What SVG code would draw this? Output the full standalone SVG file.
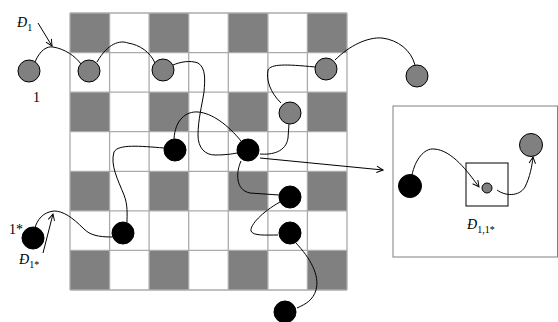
<svg xmlns="http://www.w3.org/2000/svg" width="558" height="322" viewBox="0 0 558 322">
<style>
.grid line{stroke:#ababab;stroke-width:1.3}
.dk{fill:#808080}
.g{fill:#808080;stroke:#000;stroke-width:1}
.b{fill:#000;stroke:#000;stroke-width:1}
.c path,.c line{fill:none;stroke:#000;stroke-width:1}
.t{font-family:"Liberation Serif",serif;font-size:14px;fill:#000}
.s{font-size:10px}
</style>
<defs>
<marker id="ah" viewBox="0 0 10 10" refX="9" refY="5" markerWidth="8" markerHeight="8" markerUnits="userSpaceOnUse" orient="auto">
<path d="M1,1 L9,5 L1,9" fill="none" stroke="#000" stroke-width="1.2"/>
</marker>
</defs>
<rect width="558" height="322" fill="#fff"/>
<g id="grid" class="grid">
<g class="dk">
<rect x="70" y="13" width="39.6" height="39.6"/><rect x="149.1" y="13" width="39.6" height="39.6"/><rect x="228.3" y="13" width="39.6" height="39.6"/><rect x="307.4" y="13" width="39.6" height="39.6"/>
<rect x="70" y="92.1" width="39.6" height="39.6"/><rect x="149.1" y="92.1" width="39.6" height="39.6"/><rect x="228.3" y="92.1" width="39.6" height="39.6"/><rect x="307.4" y="92.1" width="39.6" height="39.6"/>
<rect x="70" y="171.3" width="39.6" height="39.6"/><rect x="149.1" y="171.3" width="39.6" height="39.6"/><rect x="228.3" y="171.3" width="39.6" height="39.6"/><rect x="307.4" y="171.3" width="39.6" height="39.6"/>
<rect x="70" y="250.4" width="39.6" height="39.6"/><rect x="149.1" y="250.4" width="39.6" height="39.6"/><rect x="228.3" y="250.4" width="39.6" height="39.6"/><rect x="307.4" y="250.4" width="39.6" height="39.6"/>
</g>
<line x1="70" y1="13" x2="70" y2="290"/><line x1="109.6" y1="13" x2="109.6" y2="290"/><line x1="149.1" y1="13" x2="149.1" y2="290"/><line x1="188.7" y1="13" x2="188.7" y2="290"/><line x1="228.3" y1="13" x2="228.3" y2="290"/><line x1="267.9" y1="13" x2="267.9" y2="290"/><line x1="307.4" y1="13" x2="307.4" y2="290"/><line x1="347" y1="13" x2="347" y2="290"/>
<line x1="70" y1="13" x2="347" y2="13"/><line x1="70" y1="52.6" x2="347" y2="52.6"/><line x1="70" y1="92.1" x2="347" y2="92.1"/><line x1="70" y1="131.7" x2="347" y2="131.7"/><line x1="70" y1="171.3" x2="347" y2="171.3"/><line x1="70" y1="210.9" x2="347" y2="210.9"/><line x1="70" y1="250.4" x2="347" y2="250.4"/><line x1="70" y1="290" x2="347" y2="290"/>
</g>
<g id="connectors" class="c">
<path d="M35,62 C40,50 47,46 53,47 C65,49 75,56 81,64"/>
<path d="M97,62 C108,43 120,40 128,43 C140,45 150,52 155,63"/>
<path d="M173,65 C180,62 190,60 198,63 C206,68 205,80 204,92 C202,105 198,120 198,135 C198,148 205,155 215,155 C225,155 232,154 237,153"/>
<path d="M174,139 C175,120 186,111 198,112 C212,113 228,125 241,141"/>
<path d="M164,148 C140,146 118,144 114,152 C110,165 118,180 124,195 C128,205 127,215 127,222"/>
<path d="M112,237 C98,237 90,235 84,229 C72,217 63,211 54,211 C43,212 37,220 35,228"/>
<path d="M260,154 C272,155 286,152 288,138 L289,124"/>
<path d="M281,103 C270,92 266,80 268,70 C271,64 285,64 315,67"/>
<path d="M335,60 C350,45 368,37 382,38 C398,40 411,50 415,65"/>
<path d="M241,161 C236,172 235,190 250,193 L279,195"/>
<path d="M280,202 C262,212 250,225 251,231 C253,236 265,235 278,235"/>
<path d="M296,243 C310,258 320,275 316,290 C313,300 306,304 297,308"/>
<path d="M38,23 L52,46" marker-end="url(#ah)"/>
<path d="M43,253 L53,214" marker-end="url(#ah)"/>
<path d="M260,158 L383,170" marker-end="url(#ah)"/>
<path d="M412,175 C415,160 424,148 434,149 C452,150 468,172 479,187" marker-end="url(#ah)"/>
<path d="M497,190 C505,196 519,197 525,187 C530,177 532,166 533,157" marker-end="url(#ah)"/>
</g>
<g id="n1"><circle class="g" cx="29" cy="71" r="11"/></g>
<g id="n2"><circle class="g" cx="89" cy="71" r="11"/></g>
<g id="n3"><circle class="g" cx="163" cy="70" r="11"/></g>
<g id="n4"><circle class="g" cx="326" cy="69" r="11"/></g>
<g id="n5"><circle class="g" cx="290" cy="113" r="11"/></g>
<g id="n6"><circle class="g" cx="417" cy="76" r="11"/></g>
<g id="n7"><circle class="b" cx="175" cy="150" r="11"/></g>
<g id="n8"><circle class="b" cx="248" cy="150" r="11"/></g>
<g id="n9"><circle class="b" cx="290" cy="197" r="11"/></g>
<g id="n10"><circle class="b" cx="290" cy="233" r="11"/></g>
<g id="n11"><circle class="b" cx="123" cy="233" r="11"/></g>
<g id="n12"><circle class="b" cx="285" cy="312" r="11"/></g>
<g id="n13"><circle class="b" cx="33" cy="238" r="11"/></g>
<g id="inset">
<rect x="393" y="106" width="164.5" height="151" fill="none" stroke="#808080" stroke-width="1"/>
<circle class="b" cx="410" cy="186" r="11.5"/>
<circle class="g" cx="531" cy="145" r="11.5"/>
<rect x="466" y="163" width="42" height="43" fill="none" stroke="#000" stroke-width="1"/>
<circle class="g" cx="487" cy="188" r="5"/>
<text class="t" x="467" y="229"><tspan font-style="italic">Đ</tspan><tspan class="s" dy="4">1,1*</tspan></text>
</g>
<g id="labels">
<text class="t" x="17" y="27"><tspan font-style="italic">Đ</tspan><tspan class="s" dy="4">1</tspan></text>
<text class="t" x="33" y="102">1</text>
<text class="t" x="9" y="234">1*</text>
<text class="t" x="19" y="264"><tspan font-style="italic">Đ</tspan><tspan class="s" dy="4">1*</tspan></text>
</g>
</svg>
